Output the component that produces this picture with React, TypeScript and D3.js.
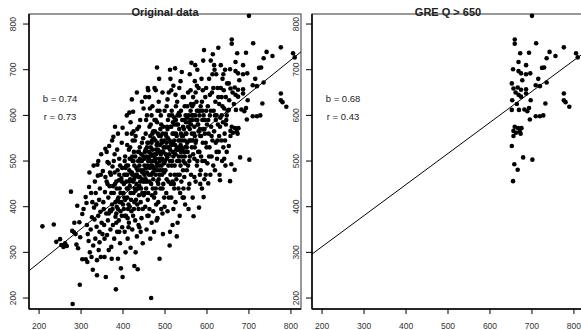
import * as d3 from 'd3'

// GRE scores: [x, y]
const points: [number, number][] = [
  // 200-300
  [208, 357], [235, 361], [241, 323], [250, 329], [253, 316], [258, 312], [262, 320], [266, 314], [276, 433], [280, 187],
  [279, 347], [283, 344], [287, 340], [289, 317], [293, 309], [296, 366], [291, 402], [297, 229], [298, 333], [284, 365],
  // 300-350
  [303, 285], [311, 285], [315, 279], [303, 384], [306, 395], [311, 421], [314, 360], [316, 340], [318, 325], [320, 475],
  [321, 300], [323, 350], [325, 290], [326, 377], [328, 262], [329, 315], [331, 398], [333, 455], [334, 330], [335, 430],
  [337, 356], [338, 250], [339, 492], [340, 468], [341, 380], [342, 305], [343, 415], [344, 345], [345, 440], [346, 389],
  [347, 290], [348, 515], [349, 365], [336, 405], [327, 410], [332, 372], [313, 408], [319, 443], [344, 322], [347, 470],
  [341, 500], [324, 430], [338, 283], [330, 490],
  // 350-400
  [352, 478], [353, 410], [355, 360], [356, 290], [357, 432], [358, 527], [359, 246], [360, 385], [361, 455], [362, 338],
  [363, 498], [364, 370], [365, 420], [366, 305], [367, 533], [368, 445], [369, 392], [370, 350], [371, 470], [372, 312],
  [373, 286], [374, 405], [375, 488], [376, 360], [377, 553], [378, 430], [379, 330], [380, 515], [381, 575], [382, 378],
  [383, 219], [384, 455], [385, 400], [386, 345], [387, 480], [388, 286], [389, 420], [390, 370], [391, 505], [392, 440],
  [393, 320], [394, 390], [395, 265], [396, 462], [397, 540], [398, 355], [399, 246], [399, 573], [354, 395], [358, 465],
  [363, 450], [366, 385], [369, 475], [372, 430], [375, 395], [378, 500], [381, 450], [384, 365], [387, 415], [390, 458],
  [393, 490], [396, 410], [351, 340], [356, 330], [361, 520], [366, 495], [371, 390], [376, 445], [386, 525], [391, 345],
  [397, 380], [374, 545], [388, 560], [382, 410], [385, 440], [388, 395], [391, 470], [394, 430], [397, 455], [380, 475],
  [384, 385], [392, 410], [398, 485],
  // 400-450
  [401, 430], [402, 395], [403, 470], [404, 345], [405, 510], [406, 300], [407, 380], [408, 455], [409, 560], [410, 420],
  [411, 330], [412, 490], [413, 405], [414, 365], [415, 606], [416, 445], [417, 530], [418, 310], [419, 475], [420, 390],
  [421, 635], [422, 350], [423, 500], [424, 608], [425, 430], [426, 460], [427, 270], [428, 545], [429, 370], [430, 300],
  [431, 415], [432, 485], [433, 335], [434, 570], [435, 263], [436, 440], [437, 395], [438, 520], [439, 355], [440, 465],
  [441, 590], [442, 410], [443, 500], [444, 375], [445, 540], [446, 430], [447, 320], [448, 480], [449, 615], [402, 450],
  [405, 415], [408, 490], [411, 375], [414, 525], [417, 460], [420, 430], [423, 545], [426, 395], [429, 510], [432, 450],
  [435, 480], [438, 425], [441, 455], [444, 515], [447, 395], [404, 380], [410, 535], [416, 400], [422, 470], [428, 440],
  [434, 405], [440, 530], [446, 460], [412, 440], [418, 585], [424, 380], [430, 555], [436, 500], [442, 345], [448, 550],
  [407, 470], [413, 355], [419, 505], [425, 565], [431, 470], [437, 360], [443, 440], [449, 425], [415, 480], [427, 410],
  [439, 490], [445, 630], [433, 650], [421, 560], [409, 600], [426, 520], [438, 575], [400, 405], [403, 420], [406, 485],
  [409, 440], [412, 395], [415, 455], [418, 430], [404, 500], [410, 470], [416, 505], [419, 415], [421, 475], [424, 455],
  [427, 490], [430, 435], [433, 470], [436, 520], [439, 445], [442, 480], [445, 500], [448, 455], [422, 510], [428, 465],
  [434, 440], [440, 505], [446, 475], [425, 500], [437, 465], [449, 510],
  // 450-500
  [451, 470], [452, 520], [453, 400], [454, 560], [455, 440], [456, 350], [457, 600], [458, 490], [459, 415], [460, 540],
  [461, 380], [462, 640], [463, 455], [464, 510], [465, 330], [466, 580], [467, 200], [468, 470], [469, 425], [470, 620],
  [471, 500], [472, 390], [473, 550], [474, 345], [475, 660], [476, 480], [477, 430], [478, 590], [479, 515], [480, 370],
  [481, 705], [482, 455], [483, 560], [484, 410], [485, 630], [486, 490], [487, 286], [488, 535], [489, 440], [490, 600],
  [491, 395], [492, 520], [493, 470], [494, 650], [495, 340], [496, 575], [497, 500], [498, 420], [499, 545], [451, 505],
  [454, 460], [457, 530], [460, 430], [463, 575], [466, 490], [469, 545], [472, 460], [475, 515], [478, 440], [481, 585],
  [484, 520], [487, 470], [490, 555], [493, 505], [496, 450], [499, 610], [452, 430], [455, 590], [458, 380], [461, 505],
  [464, 615], [467, 450], [470, 525], [473, 485], [476, 565], [479, 405], [482, 610], [485, 460], [488, 500], [491, 580],
  [494, 440], [497, 530], [453, 640], [459, 660], [465, 555], [471, 440], [477, 505], [483, 480], [489, 570], [495, 480],
  [456, 510], [462, 470], [468, 600], [474, 420], [480, 535], [486, 555], [492, 490], [498, 475], [457, 455], [463, 395],
  [469, 490], [475, 590], [481, 495], [487, 610], [493, 540], [499, 400], [466, 530], [478, 470], [490, 515], [472, 565],
  [484, 450], [496, 520], [468, 365], [482, 375], [494, 385], [460, 655], [486, 680], [478, 655], [451, 490], [454, 525],
  [457, 475], [460, 500], [452, 455], [458, 540], [455, 485], [462, 520], [465, 500], [468, 540], [471, 475], [474, 510],
  [477, 545], [480, 490], [483, 525], [486, 505], [489, 480], [492, 545], [495, 520], [498, 495], [464, 485], [470, 560],
  [476, 500], [482, 540], [488, 520], [494, 560], [467, 515], [479, 525], [491, 505],
  // 500-550
  [501, 480], [502, 560], [503, 430], [504, 620], [505, 510], [506, 390], [507, 590], [508, 455], [509, 650], [510, 530],
  [511, 315], [512, 700], [513, 470], [514, 575], [515, 420], [516, 610], [517, 500], [518, 360], [519, 540], [520, 665],
  [521, 450], [522, 595], [523, 490], [524, 703], [525, 410], [526, 560], [527, 525], [528, 335], [529, 630], [530, 470],
  [531, 580], [532, 440], [533, 510], [534, 660], [535, 380], [536, 545], [537, 490], [538, 610], [539, 455], [540, 695],
  [541, 525], [542, 420], [543, 575], [544, 500], [545, 640], [546, 465], [547, 545], [548, 405], [549, 600], [502, 515],
  [505, 575], [508, 490], [511, 545], [514, 450], [517, 600], [520, 510], [523, 470], [526, 620], [529, 500], [532, 545],
  [535, 470], [538, 520], [541, 590], [544, 440], [547, 620], [504, 460], [510, 600], [516, 535], [522, 440], [528, 580],
  [534, 500], [540, 555], [546, 520], [503, 540], [509, 420], [515, 655], [521, 560], [527, 460], [533, 605], [539, 530],
  [545, 570], [506, 635], [512, 500], [518, 455], [524, 535], [530, 600], [536, 430], [542, 640], [548, 495], [507, 530],
  [519, 585], [531, 525], [543, 480], [513, 680], [525, 645], [537, 675], [549, 530], [520, 395], [530, 365], [512, 345],
  [545, 420], [501, 530], [504, 505], [507, 550], [510, 515], [513, 540], [516, 490], [519, 520], [500, 500], [506, 570],
  [512, 525], [518, 560], [503, 555], [515, 575], [522, 545], [525, 515], [528, 555], [531, 500], [534, 570], [537, 535],
  [540, 510], [543, 555], [546, 590], [549, 560], [523, 580], [529, 530], [535, 600], [541, 545], [547, 510], [526, 590],
  [538, 560],
  // 550-600
  [551, 560], [552, 480], [553, 620], [554, 520], [555, 650], [556, 440], [557, 585], [558, 500], [559, 690], [560, 545],
  [561, 610], [562, 470], [563, 715], [564, 530], [565, 590], [566, 420], [567, 640], [568, 379], [569, 560], [570, 505],
  [571, 675], [572, 600], [573, 455], [574, 545], [575, 630], [576, 490], [577, 700], [578, 580], [579, 520], [580, 660],
  [581, 398], [582, 600], [583, 470], [584, 555], [585, 620], [586, 510], [587, 680], [588, 440], [589, 590], [590, 540],
  [591, 720], [592, 421], [593, 743], [594, 570], [595, 500], [596, 640], [597, 470], [598, 610], [599, 530], [553, 540],
  [556, 600], [559, 510], [562, 580], [565, 545], [568, 625], [571, 530], [574, 590], [577, 500], [580, 565], [583, 610],
  [586, 555], [589, 500], [592, 600], [595, 560], [598, 660], [555, 490], [561, 655], [567, 515], [573, 650], [579, 610],
  [585, 480], [591, 570], [597, 540], [558, 450], [564, 600], [570, 465], [576, 665], [582, 520], [588, 630], [594, 460],
  [600, 580], [572, 710], [584, 450], [556, 395], [590, 655], [552, 530], [555, 575], [558, 545], [561, 590], [564, 560],
  [567, 600], [570, 575], [573, 540], [576, 610], [579, 580], [553, 595], [559, 570], [565, 620], [571, 555], [577, 590],
  [583, 570], [589, 610], [595, 590], [550, 585], [562, 625],
  // 600-650
  [601, 495], [602, 620], [603, 451], [604, 560], [605, 680], [606, 530], [607, 600], [608, 470], [609, 720], [610, 575],
  [611, 510], [612, 650], [613, 545], [614, 734], [615, 490], [616, 610], [617, 565], [618, 700], [619, 480], [620, 630],
  [621, 540], [622, 690], [623, 600], [624, 505], [625, 660], [626, 580], [627, 748], [628, 520], [629, 625], [630, 470],
  [631, 458], [632, 595], [633, 710], [634, 545], [635, 640], [636, 500], [637, 680], [638, 585], [639, 530], [640, 655],
  [641, 615], [642, 560], [643, 700], [644, 490], [645, 640], [646, 590], [647, 520], [648, 670], [649, 610], [603, 590],
  [607, 645], [611, 555], [615, 660], [619, 600], [623, 520], [627, 640], [631, 575], [635, 600], [639, 690], [643, 545],
  [647, 600], [605, 510], [613, 690], [621, 590], [629, 555], [637, 620], [645, 580], [609, 610], [625, 545], [641, 505],
  [617, 710], [633, 660],
  // above 650 (also in the right panel)
  [700, 818], [659, 766], [659, 757], [710, 758], [672, 736], [693, 737], [742, 739], [776, 749], [805, 736], [809, 727],
  [756, 730], [735, 725], [668, 717], [686, 710], [724, 704], [729, 705], [655, 701], [668, 697], [674, 692], [686, 690],
  [696, 692], [715, 680], [677, 677], [652, 670], [709, 666], [719, 664], [666, 661], [656, 659], [735, 672], [686, 657],
  [674, 656], [661, 650], [686, 648], [668, 645], [674, 641], [776, 648], [697, 633], [776, 633], [780, 629], [789, 619],
  [653, 633], [732, 626], [664, 625], [652, 612], [669, 612], [682, 613], [693, 616], [689, 609], [719, 598], [709, 598],
  [727, 600], [695, 591], [659, 575], [667, 572], [675, 572], [656, 566], [671, 564], [662, 562], [673, 560], [656, 555],
  [652, 533], [679, 508], [701, 503], [658, 493], [666, 481], [655, 456],
]

const ticks = [200, 300, 400, 500, 600, 700, 800]
const titles = ['Original data', 'GRE Q > 650']
const slopes = [0.74, 0.68]
const intercepts = [129.5, 176.6]
const rValues = [0.73, 0.43]
const cutoff = 650

const W = 581
const H = 330
const font = '"Liberation Sans", Arial, sans-serif'

interface PanelProps {
  left: number
  idx: number
  data: [number, number][]
}

const Panel = ({ left, idx, data }: PanelProps) => {
  const top = 14
  const bottom = 309
  const right = left + 272
  const x = d3.scaleLinear().domain([176, 824]).range([left, right])
  const y = d3.scaleLinear().domain([176, 822]).range([bottom, top])
  const fit = (v: number) => intercepts[idx] + slopes[idx] * v
  const clipId = `clip-${idx}`
  return (
    <g>
      <defs>
        <clipPath id={clipId}>
          <rect x={left} y={top} width={right - left} height={bottom - top} />
        </clipPath>
      </defs>
      <rect x={left} y={top} width={right - left} height={bottom - top} fill="none" stroke="#555" strokeWidth={1.2} />
      {/* y axis */}
      <line x1={left} x2={left} y1={top} y2={bottom} stroke="#000" strokeWidth={1.5} />
      {ticks.map((t) => (
        <g key={`y${t}`}>
          <line x1={left - 6} x2={left} y1={y(t)} y2={y(t)} stroke="#000" strokeWidth={1} />
          <text
            transform={`translate(${left - 16},${y(t)}) rotate(-90)`}
            textAnchor="middle"
            dominantBaseline="central"
            fontSize={8.5}
            fill="#333"
            fontFamily={font}
          >
            {t}
          </text>
        </g>
      ))}
      {/* x axis */}
      <line x1={left} x2={right} y1={bottom} y2={bottom} stroke="#000" strokeWidth={1.5} />
      {ticks.map((t) => (
        <g key={`x${t}`}>
          <line x1={x(t)} x2={x(t)} y1={bottom} y2={bottom + 5} stroke="#000" strokeWidth={1} />
          <text x={x(t)} y={bottom + 20} textAnchor="middle" fontSize={8.5} fill="#333" fontFamily={font}>
            {t}
          </text>
        </g>
      ))}
      <line
        x1={x(176)}
        y1={y(fit(176))}
        x2={x(824)}
        y2={y(fit(824))}
        stroke="#000"
        strokeWidth={1}
        clipPath={`url(#${clipId})`}
      />
      {data.map((d, i) => (
        <circle key={i} cx={x(d[0])} cy={y(d[1])} r={2.3} fill="#000" />
      ))}
      <text x={(left + right) / 2} y={16} textAnchor="middle" fontSize={11} fontWeight="bold" fill="#222" fontFamily={font}>
        {titles[idx]}
      </text>
      <text x={x(250)} y={y(636)} textAnchor="middle" dominantBaseline="central" fontSize={9.5} fill="#222" fontFamily={font}>
        {`b = ${slopes[idx].toFixed(2)}`}
      </text>
      <text x={x(250)} y={y(597)} textAnchor="middle" dominantBaseline="central" fontSize={9.5} fill="#222" fontFamily={font}>
        {`r = ${rValues[idx].toFixed(2)}`}
      </text>
    </g>
  )
}

export default function App() {
  const subset = points.filter((d) => d[0] > cutoff)
  return (
    <svg
      width={W}
      height={H}
      viewBox={`0 0 ${W} ${H}`}
      style={{ position: 'absolute', left: 0, top: 0, background: '#fff' }}
    >
      <rect width={W} height={H} fill="#fff" />
      <Panel left={29} idx={0} data={points} />
      <Panel left={312} idx={1} data={subset} />
    </svg>
  )
}
